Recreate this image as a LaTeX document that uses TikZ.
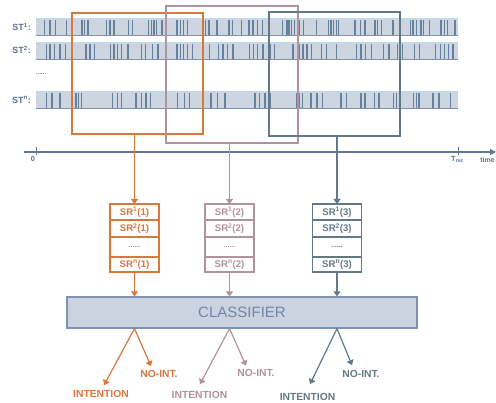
\documentclass[tikz,border=0pt]{standalone}
\usepackage{fontspec}
\setmainfont{Liberation Sans}
\usepackage{xcolor}
\usetikzlibrary{positioning}
\usetikzlibrary{arrows.meta}

\definecolor{barfill}{HTML}{CDD5E1}
\definecolor{bartop}{HTML}{B9DCEF}
\definecolor{barbot}{HTML}{7F93AE}
\definecolor{spikecol}{HTML}{66809E}
\definecolor{labcol}{HTML}{5C6F8C}
\definecolor{orng}{HTML}{D9773D}
\definecolor{mauve}{HTML}{B0939C}
\definecolor{slate}{HTML}{637A86}
\definecolor{clsfill}{HTML}{CBD3E0}
\definecolor{clsline}{HTML}{7C93B3}
\definecolor{clstext}{HTML}{7085A8}
\definecolor{axiscol}{HTML}{5F7799}

\begin{document}
\begin{tikzpicture}[x=1pt,y=-1pt]
% Define styles
\tikzstyle{spike} = [draw=spikecol, line width=1.2pt]
\tikzstyle{lab} = [font=\fontsize{9}{10}\selectfont\bfseries, text=labcol, inner sep=0]
\tikzstyle{ticklab} = [font=\fontsize{7.5}{8}\selectfont\bfseries, text=labcol, inner sep=0]
\tikzstyle{win} = [draw, line width=1.2pt, fill=none, inner sep=0, outer sep=0]
\tikzstyle{srrow} = [draw, line width=1.2pt, minimum width=49pt, inner sep=0, outer sep=0, font=\fontsize{9.6}{10}\selectfont\bfseries]
\tikzstyle{conn} = [line width=1.2pt, -{Triangle[width=7pt,length=5pt]}]
\tikzstyle{cls} = [draw=clsline, fill=clsfill, line width=1.2pt, text=clstext, minimum width=350pt, minimum height=31pt, font=\fontsize{15}{16}\selectfont]
\tikzstyle{result} = [font=\fontsize{10.3}{11}\selectfont\bfseries, inner sep=1pt]
\useasboundingbox (0,0) rectangle (496,403);
% Spike trains
\foreach \y in {18,42,91} {
  \fill[barfill] (36,\y) rectangle (458,\y+17);
  \draw[bartop, line width=0.8pt] (36,\y) -- (458,\y);
  \draw[barbot, line width=0.8pt] (36,\y+17) -- (458,\y+17);
}
\foreach \x in {44.7,50,55.3,66.7,82,84.7,88,106.7,110,114,128.7,132.7,148.7,151.3,154,156.7,162,177,180.3,183.7,187.7,205.7,209,217,229,232.3,241.7,249,253,257.7,262.3,282.3,287,289,291.7,294.3,299,303.7,316.5,328.3,331,333.7,336.3,338.3,355,360.3,365,375,377.7,381.7,393,410.3,413,416.3,421,423.7,429.7,441,444.3,447.7,455}
  \draw[spike] (\x,20) -- (\x,35);
\foreach \x in {46.7,50,54.7,60,65.3,86,90,94.7,110.7,114,117.3,121.3,128,141.3,145.3,152.7,158,177,180.3,183.7,187.7,192.3,209.7,218.3,223,227.7,233,249.7,253.7,257.7,263,270.3,274.3,293,299,303,307,311.7,321.7,326.3,336.3,356.3,361,365.7,371.7,383.7,389,397.7,402.3,414.3,419.7,435.7,440.3,444.3,448.3,453}
  \draw[spike] (\x,44) -- (\x,59);
\foreach \x in {46.7,52,60,76,78.7,81.3,112.7,117.3,121.3,136,141.3,146,150.7,177.7,184.3,189.7,211,217.7,225,255,259.7,265,270.3,297,299.7,302.3,311,317,322.5,341,346.3,361,365,374.3,379,393.7,396.3,413.7,416.3,419,433,439,450.3}
  \draw[spike] (\x,93) -- (\x,108);
\node[lab, anchor=east] (st_1) at (31,27) {ST\textsuperscript{1}:};
\node[lab, anchor=east] (st_2) at (31,50) {ST\textsuperscript{2}:};
\node[lab, anchor=west] (st_dots) at (36,74) {\fontsize{6}{6}\selectfont......};
\node[lab, anchor=east] (st_n) at (31,100) {ST\textsuperscript{n}:};
% Time windows
\node[win, draw=orng, minimum width=131pt, minimum height=121pt] (win_1) at (137.5,73.5) {};
\node[win, draw=mauve, minimum width=132pt, minimum height=137pt] (win_2) at (232,74.5) {};
\node[win, draw=slate, minimum width=131pt, minimum height=124pt] (win_3) at (334.5,74) {};
% Time axis
\draw[axiscol, line width=1.1pt, -{Triangle[width=6pt,length=6pt]}] (24,152) -- (496,152);
\draw[axiscol, line width=0.8pt] (36,147) -- (36,155);
\draw[axiscol, line width=0.8pt] (458,147) -- (458,155);
\node[ticklab] (t_0) at (33,159) {0};
\node[ticklab, anchor=west] (t_rec) at (451,159.5) {T\textsubscript{rec}};
\node[ticklab, anchor=east, font=\fontsize{7}{8}\selectfont\bfseries] (t_lab) at (495,160) {time};
% Feature tables
\foreach \w/\cx/\col in {1/134.5/orng, 2/229.5/mauve, 3/337/slate} {
  \node[srrow, draw=\col, text=\col, minimum height=16pt] (r1_w\w) at (\cx,212) {SR\textsuperscript{1}(\w)};
  \node[srrow, draw=\col, text=\col, minimum height=17pt, below=0pt of r1_w\w] (r2_w\w) {SR\textsuperscript{2}(\w)};
  \node[srrow, draw=\col, text=\col, minimum height=20pt, below=0pt of r2_w\w] (rd_w\w) {\fontsize{7}{7}\selectfont......};
  \node[srrow, draw=\col, text=\col, minimum height=15pt, below=0pt of rd_w\w] (rn_w\w) {SR\textsuperscript{n}(\w)};
  \draw[conn, \col] (win_\w.south -| r1_w\w) -- (r1_w\w.north);
}
\node[cls] (cls) at (242,312.5) {CLASSIFIER};
\foreach \w/\col in {1/orng, 2/mauve, 3/slate}
  \draw[conn, \col] (rn_w\w.south) -- (rn_w\w.south |- cls.north);
% Outputs
\node[result, text=orng] (int_w1) at (101,394) {INTENTION};
\node[result, text=orng] (nint_w1) at (159,374) {NO-INT.};
\node[result, text=mauve] (int_w2) at (199.5,395) {INTENTION};
\node[result, text=mauve] (nint_w2) at (256,373) {NO-INT.};
\node[result, text=slate] (int_w3) at (307.5,397) {INTENTION};
\node[result, text=slate] (nint_w3) at (361,374) {NO-INT.};
\draw[conn, orng] (cls.south -| rn_w1) -- ([xshift=3pt, yshift=4pt]int_w1.north);
\draw[conn, orng] (cls.south -| rn_w1) -- ([xshift=-8pt, yshift=3pt]nint_w1.north);
\draw[conn, mauve] (cls.south -| rn_w2) -- ([xshift=0.5pt, yshift=6pt]int_w2.north);
\draw[conn, mauve] (cls.south -| rn_w2) -- ([xshift=-10pt, yshift=2.5pt]nint_w2.north);
\draw[conn, slate] (cls.south -| rn_w3) -- ([xshift=2.5pt, yshift=8pt]int_w3.north);
\draw[conn, slate] (cls.south -| rn_w3) -- ([xshift=-9pt, yshift=4pt]nint_w3.north);
\end{tikzpicture}
\end{document}
